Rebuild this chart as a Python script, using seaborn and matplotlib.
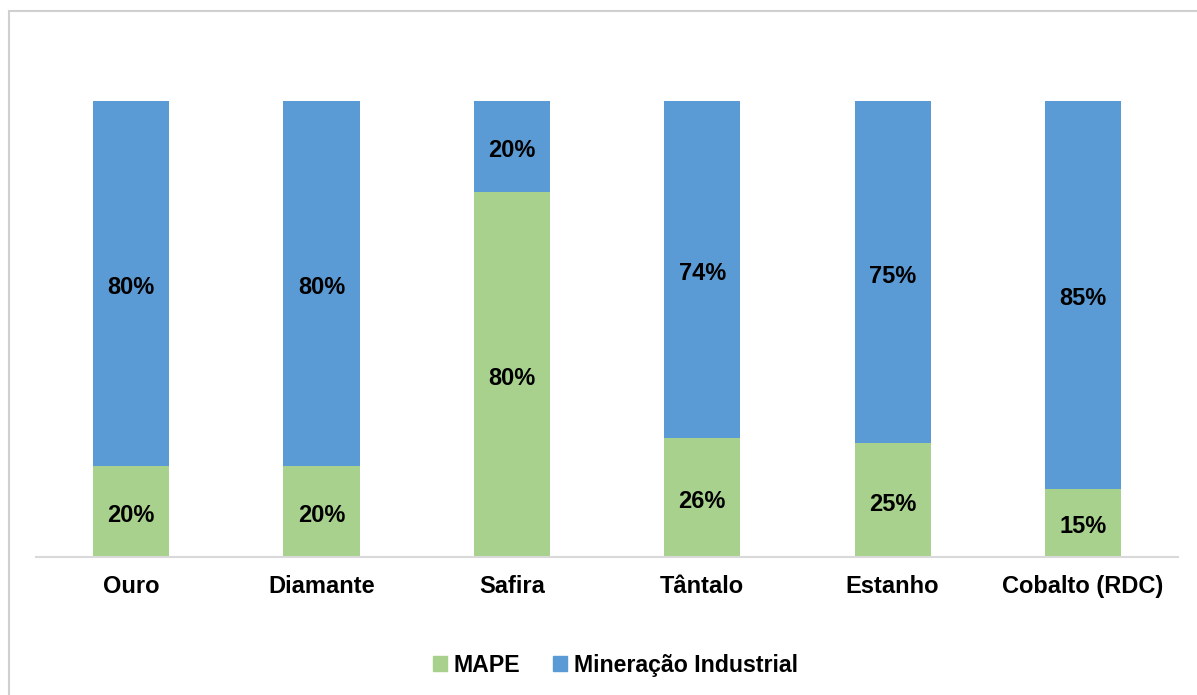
import matplotlib
matplotlib.use("Agg")
import matplotlib.pyplot as plt
from matplotlib.patches import Rectangle
import numpy as np
import pandas as pd
import seaborn as sns

# Share of production by mining type (%)
categories = ["Ouro", "Diamante", "Safira", "Tântalo", "Estanho", "Cobalto (RDC)"]
mape = [20, 20, 80, 26, 25, 15]
industrial = [80, 80, 20, 74, 75, 85]
series_names = ["MAPE", "Mineração Industrial"]

green = "#A9D18E"
blue = "#5B9BD5"

sns.set_theme(style="white")
plt.rcParams["font.family"] = ["Liberation Sans", "DejaVu Sans"]
plt.rcParams["text.color"] = "black"

df = pd.DataFrame({
    "categoria": categories,
    "mape": mape,
    "industrial": industrial,
})
df["total"] = df["mape"] + df["industrial"]

fig = plt.figure(figsize=(11.97, 6.95), dpi=100)
ax = fig.add_axes([0.0301, 0.1986, 0.9541, 0.6561])

# stacked bars: full height in blue, MAPE share in green on top of it
sns.barplot(data=df, x="categoria", y="total", color=blue, width=0.4,
            saturation=1, ax=ax, linewidth=0)
sns.barplot(data=df, x="categoria", y="mape", color=green, width=0.4,
            saturation=1, ax=ax, linewidth=0)

for i, (m, ind) in enumerate(zip(mape, industrial)):
    for yc, val in ((m / 2, m), (m + ind / 2, ind)):
        ax.annotate(f"{val}%", (i, yc), xytext=(0, -3), textcoords="offset points",
                    ha="center", va="center", fontsize=17, fontweight="bold",
                    color="black")

ax.set_xlim(-0.5, len(categories) - 0.5)
ax.set_ylim(0, 100)
ax.set_xlabel("")
ax.set_ylabel("")
ax.set_yticks([])
ax.tick_params(axis="x", length=0, pad=13)
for lbl in ax.get_xticklabels():
    lbl.set_fontsize(17)
    lbl.set_fontweight("bold")
    lbl.set_color("black")

for side in ["left", "right", "top"]:
    ax.spines[side].set_visible(False)
ax.spines["bottom"].set_color("#D9D9D9")
ax.spines["bottom"].set_linewidth(1.5)

handles = [Rectangle((0, 0), 1, 1, color=green), Rectangle((0, 0), 1, 1, color=blue)]
fig.legend(handles, series_names, loc="center", bbox_to_anchor=(0.514, 0.043),
           ncol=2, frameon=False, handlelength=0.6, handleheight=0.6,
           handletextpad=0.3, columnspacing=1.4, labelcolor="black",
           prop={"size": 16.7, "weight": "bold"})

# chart frame
fig.patches.append(Rectangle((9 / 1197, -0.1), 1.2, 1 - 11 / 695 + 0.1,
                             transform=fig.transFigure, fill=False,
                             edgecolor="#D0D0D0", linewidth=1.5))

fig.savefig("out.png", dpi=100, facecolor="white")
